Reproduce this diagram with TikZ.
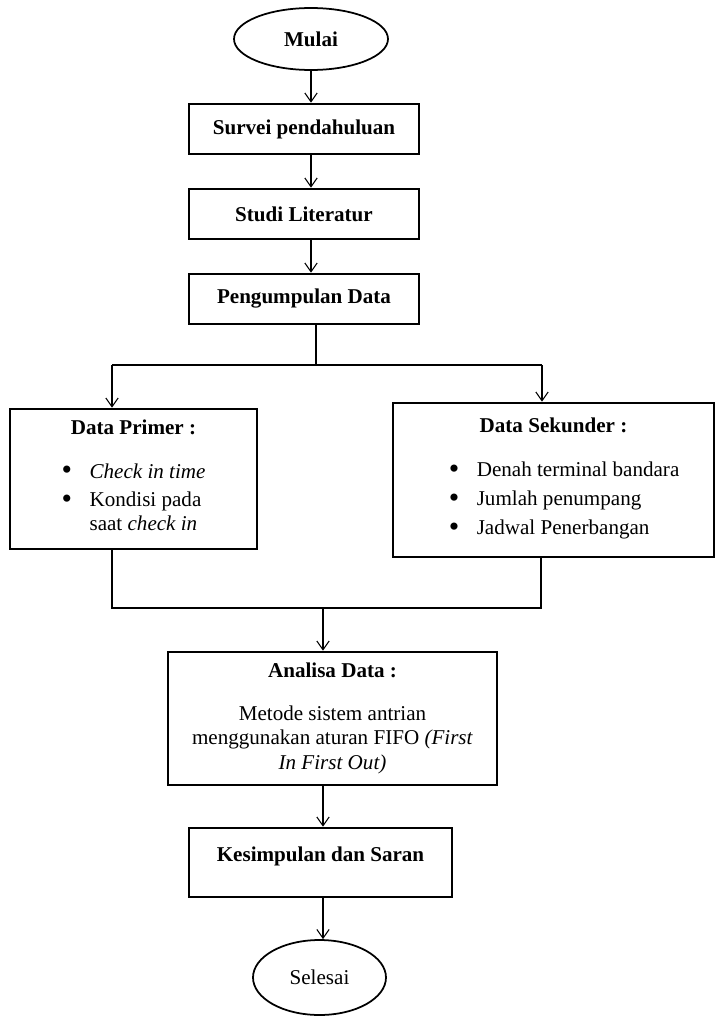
\documentclass[tikz,border=0pt]{standalone}
\usepackage{fontspec}
\setmainfont{Liberation Serif}
\usetikzlibrary{shapes.geometric,arrows.meta}
\newcommand{\bul}{\raisebox{-1pt}{\fontsize{17}{14}\selectfont\textbullet}}

\begin{document}
\begin{tikzpicture}[x=0.02cm,y=-0.02cm,
  font=\fontsize{12}{14}\selectfont,
  box/.style={rectangle,draw=black,line width=1.5pt,align=center,inner sep=2pt},
  stagebox/.style={box,minimum width=4.6cm,minimum height=1cm},
  oval/.style={ellipse,draw=black,line width=1pt,inner sep=0pt},
  arr/.style={line width=0.6pt,-{Straight Barb[length=5pt,width=7pt]}},
  ln/.style={line width=0.6pt}]
\useasboundingbox (0,0) rectangle (716,1017);
% x, y in px from top left
\node[oval,minimum width=3.08cm,minimum height=1.24cm] (mulai) at (311,39) {\textbf{Mulai}};
\node[stagebox] (survei) at (304,129) {\textbf{Survei pendahuluan}};
\node[stagebox] (studi) at (304,214) {\textbf{Studi Literatur}};
\node[stagebox] (kumpul) at (304,299) {\textbf{Pengumpulan Data}};
% data boxes
\node[box,minimum width=4.94cm,minimum height=2.8cm] (primer) at (133.5,479) {\textbf{Data Primer :}\\[11pt]
  \begin{tabular}[t]{@{}l@{\hspace{10pt}}l@{}}
  \bul & \textit{Check in time}\\[2pt]
  \bul & Kondisi pada\\
   & saat \textit{check in}
  \end{tabular}};
\node[box,minimum width=6.42cm,minimum height=3.08cm] (sekunder) at (553.5,480) {\textbf{Data Sekunder :}\\[11pt]
  \hspace*{12pt}\begin{tabular}[t]{@{}l@{\hspace{10pt}}l@{}}
  \bul & Denah terminal bandara\\[2.5pt]
  \bul & Jumlah penumpang\\[2.5pt]
  \bul & Jadwal Penerbangan
  \end{tabular}};
\node[box,minimum width=6.58cm,minimum height=2.66cm] (analisa) at (332.5,718.5) {\textbf{Analisa Data :}\\[10pt]
  Metode sistem antrian\\ menggunakan aturan FIFO \textit{(First}\\ \textit{In First Out)}};
\node[box,minimum width=5.26cm,minimum height=1.38cm,text depth=0.35cm] (simpul) at (320.5,862.5) {\textbf{Kesimpulan dan Saran}};
\node[oval,minimum width=2.66cm,minimum height=1.5cm] (selesai) at (319.5,977.5) {Selesai};
% arrows down
\draw[arr] (mulai.south) -- (mulai.south |- survei.north);
\draw[arr] (mulai.south |- survei.south) -- (mulai.south |- studi.north);
\draw[arr] (mulai.south |- studi.south) -- (mulai.south |- kumpul.north);
% split
\coordinate (split) at (316,365);
\coordinate (pl) at (112,365);
\coordinate (pr) at (542,365);
\draw[ln] (split |- kumpul.south) -- (split);
\draw[ln] (pl) -- (pr);
\draw[arr] (pl) -- (pl |- primer.north);
\draw[arr] (pr) -- (pr |- sekunder.north);
% join
\coordinate (join) at (323,608);
\coordinate (ql) at (112,608);
\coordinate (qr) at (541,608);
\draw[ln] (ql |- primer.south) -- (ql) -- (qr) -- (qr |- sekunder.south);
\draw[arr] (join) -- (join |- analisa.north);
\draw[arr] (join |- analisa.south) -- (join |- simpul.north);
\draw[arr] (join |- simpul.south) -- (join |- selesai.north);
\end{tikzpicture}
\end{document}
